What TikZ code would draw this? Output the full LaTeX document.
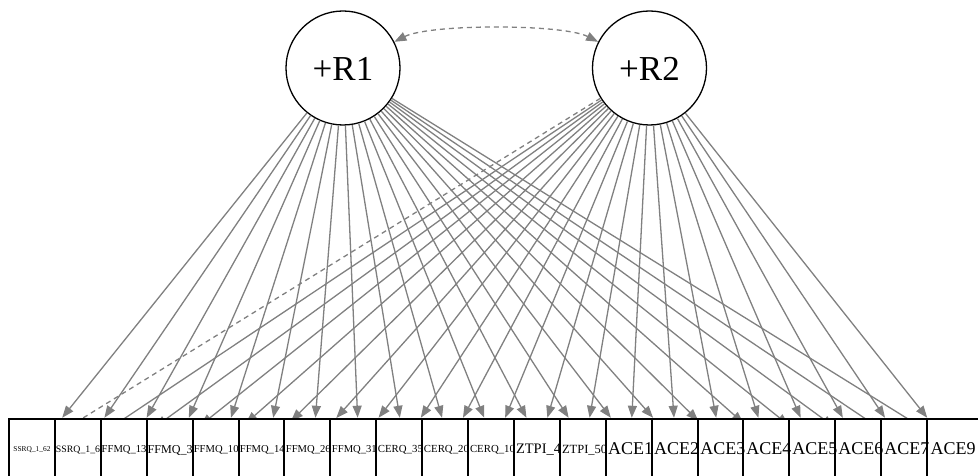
\documentclass[tikz,border=0pt]{standalone}
\usepackage{fontspec}
\setmainfont{Liberation Serif}
\usetikzlibrary{arrows.meta,calc}
\definecolor{edgegray}{RGB}{128,128,128}
\begin{document}
\begin{tikzpicture}[x=1pt,y=1pt,
  latent/.style={circle,draw=black,line width=1.3pt,minimum size=114pt,inner sep=0pt},
  latlab/.style={font=\fontsize{35}{35}\selectfont,inner sep=0pt},
  ghost/.style={rectangle,minimum width=45.3pt,minimum height=51pt,inner sep=0pt},
  obsbox/.style={rectangle,draw=black,line width=2pt,fill=white,minimum width=45.9pt,minimum height=64pt,inner sep=0pt,anchor=north west},
  obslab/.style={inner sep=0pt,anchor=base},
  load/.style={draw=edgegray,line width=1.3pt,-{Triangle[length=12pt,width=9pt]}},
  dashload/.style={load,dash pattern=on 5pt off 4pt},
  covar/.style={draw=edgegray,line width=1.3pt,dash pattern=on 5pt off 4pt,{Triangle[length=12pt,width=9pt]}-{Triangle[length=12pt,width=9pt]}}
]
\useasboundingbox (0,0) rectangle (978,476);
\clip (0,0) rectangle (978,476);
% latent variables
\node[latent] (R1) at (343,408) {};
\node[latent] (R2) at (649.5,408) {};
\node[latlab] (R1lab) at (343,407) {+R1};
\node[latlab] (R2lab) at (649.5,407) {+R2};
% invisible edge targets
\foreach \k in {0,...,20} {
  \node[ghost] (g\k) at ({41.6+45.3*\k},32.5) {};
}
% loadings
\foreach \k in {0,...,20} {
  \draw[load] (R1) -- (g\k);
}
\draw[dashload] (R2) -- (g0);
\foreach \k in {1,...,20} {
  \draw[load] (R2) -- (g\k);
}
% covariance
\draw[covar] (R1) to[out=27,in=153,looseness=0.5] (R2);
% observed variables
\foreach \k in {0,...,19} {
  \node[obsbox] (b\k) at ({8+45.9*\k},58) {};
}
\node[obsbox,minimum width=60pt] (b20) at ({8+45.9*20},58) {};
\foreach \lab/\fs [count=\k from 0] in {
  SSRQ\_1\_62/7.4, SSRQ\_1\_6/9.8, FFMQ\_13/10.6, FFMQ\_3/12.1, FFMQ\_10/10.6,
  FFMQ\_14/10.6, FFMQ\_26/10.6, FFMQ\_31/10.6, CERQ\_35/10.8, CERQ\_20/10.8,
  CERQ\_10/10.8, ZTPI\_4/14.5, ZTPI\_50/12.5, ACE1/18, ACE2/18, ACE3/18,
  ACE4/18, ACE5/18, ACE6/18, ACE7/18, ACE9/18} {
  \node[obslab,font=\fontsize{\fs}{\fs}\selectfont] (t\k) at ({32+46.05*\k},{27-0.331*\fs}) {\lab};
}
\end{tikzpicture}
\end{document}
